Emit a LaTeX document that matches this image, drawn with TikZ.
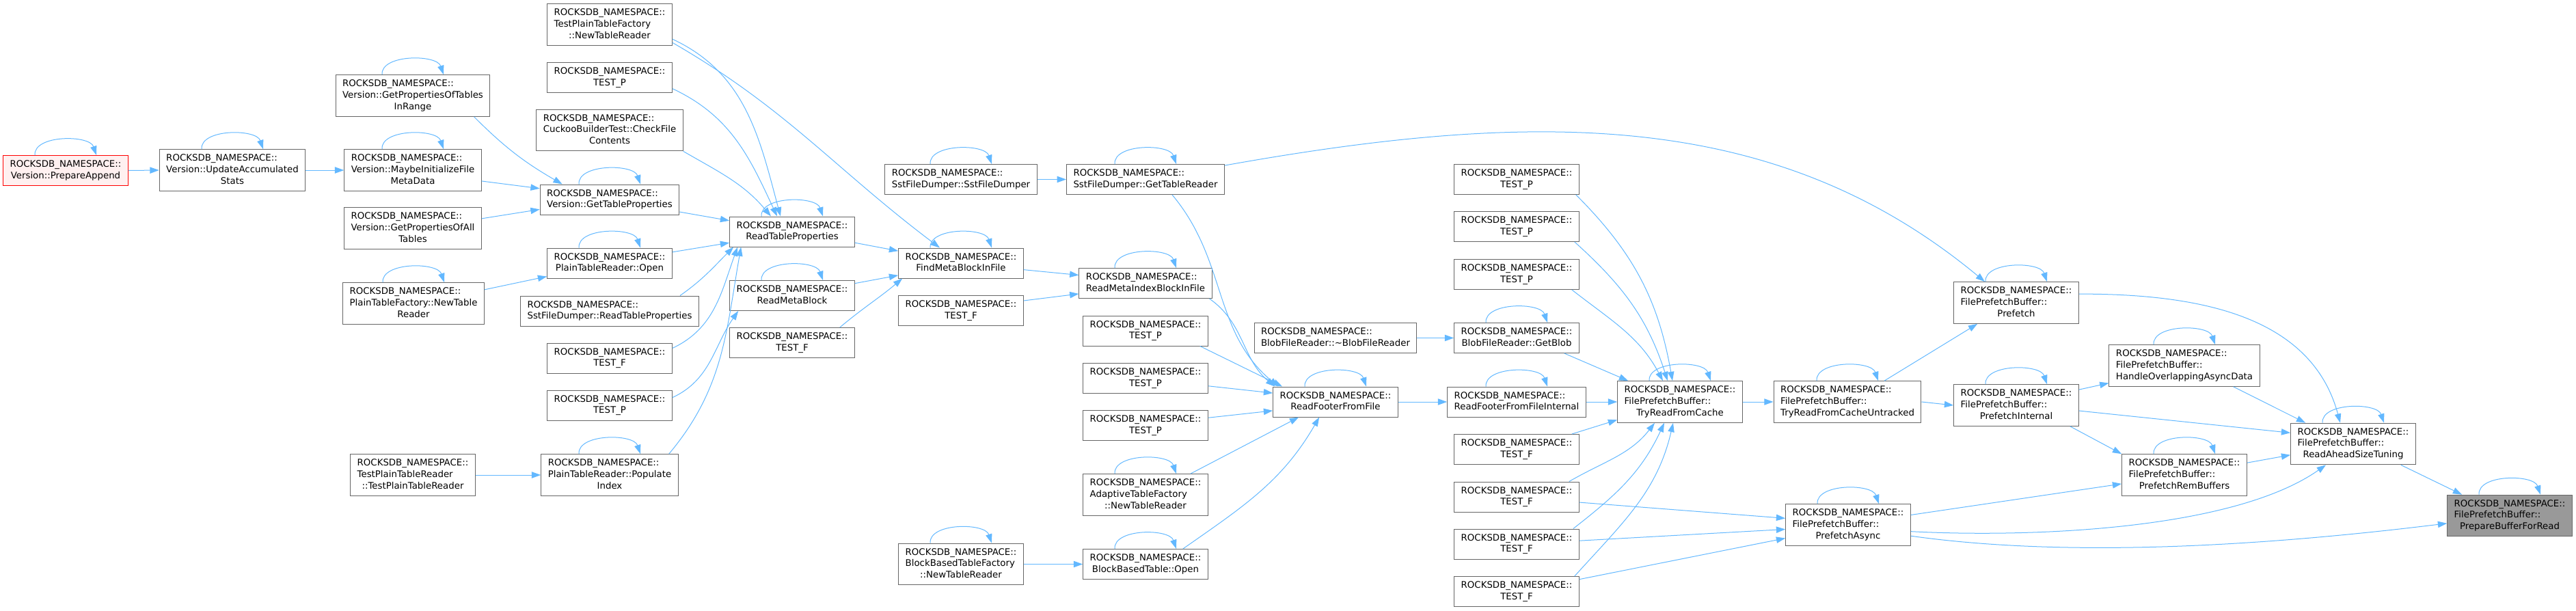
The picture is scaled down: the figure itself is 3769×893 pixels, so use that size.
\documentclass[tikz,border=0pt]{standalone}
\usepackage{fontspec}
\setmainfont{DejaVu Sans}
\usetikzlibrary{arrows.meta,calc}
\definecolor{cgEdge}{HTML}{63B8FF}
\definecolor{cgBorder}{HTML}{666666}
\definecolor{cgFocus}{HTML}{999999}
\definecolor{cgRed}{HTML}{FF0000}
\definecolor{cgRedFill}{HTML}{FFF0F0}
\newcommand{\rns}{ROCKSDB\_NAMESPACE::}
\newcommand{\fnl}[2]{\begin{tabular}{@{}l@{}}#1\\\multicolumn{1}{@{}c@{}}{#2}\end{tabular}}
\tikzset{
  cg node/.style={draw=cgBorder, fill=white, line width=0.75pt, inner xsep=7.5pt, inner ysep=4pt, font=\fontsize{10}{12.5}\selectfont},
  cg root/.style={cg node, draw=cgRed, fill=cgRedFill},
  cg focus/.style={cg node, fill=cgFocus},
  cg edge/.style={draw=cgEdge, line width=0.75pt, -{Triangle[length=10pt,width=7pt]}},
}

\begin{document}
\begin{tikzpicture}[x=0.75pt,y=0.75pt]
  \useasboundingbox (0,0) rectangle (3769,-893);
  % callers, left part
  \node[cg root] (prepAppend) at (96,-249.5) {\fnl{\rns}{Version::PrepareAppend}};
  \node[cg node] (updAcc) at (340,-249) {\fnl{\rns\\Version::UpdateAccumulated}{Stats}};
  \node[cg node] (propsRange) at (604,-140) {\fnl{\rns\\Version::GetPropertiesOfTables}{InRange}};
  \node[cg node] (maybeInit) at (604,-249) {\fnl{\rns\\Version::MaybeInitializeFile}{MetaData}};
  \node[cg node] (allTables) at (604,-334) {\fnl{\rns\\Version::GetPropertiesOfAll}{Tables}};
  \node[cg node] (plainFactory) at (605,-444) {\fnl{\rns\\PlainTableFactory::NewTable}{Reader}};
  \node[cg node] (testPlainReader) at (604,-695) {\fnl{\rns\\TestPlainTableReader}{::TestPlainTableReader}};
  \node[cg node] (testPlainFactory) at (892,-36) {\fnl{\rns\\TestPlainTableFactory}{::NewTableReader}};
  \node[cg node] (cuckoo) at (892,-190.5) {\fnl{\rns\\CuckooBuilderTest::CheckFile}{Contents}};
  \node[cg node] (getTblProps) at (892,-292) {\fnl{\rns}{Version::GetTableProperties}};
  \node[cg node] (plainOpen) at (892,-385) {\fnl{\rns}{PlainTableReader::Open}};
  \node[cg node] (sstReadProps) at (892,-455) {\fnl{\rns}{SstFileDumper::ReadTableProperties}};
  \node[cg node] (populateIdx) at (892,-695) {\fnl{\rns\\PlainTableReader::Populate}{Index}};
  \node[cg node] (readTblProps) at (1159,-339) {\fnl{\rns}{ReadTableProperties}};
  \node[cg node] (readMetaBlock) at (1159,-432.5) {\fnl{\rns}{ReadMetaBlock}};
  \node[cg node] (sstDumper) at (1406,-262.5) {\fnl{\rns}{SstFileDumper::SstFileDumper}};
  \node[cg node] (findMeta) at (1406,-385) {\fnl{\rns}{FindMetaBlockInFile}};
  \node[cg node] (bbtFactory) at (1406,-825.5) {\fnl{\rns\\BlockBasedTableFactory}{::NewTableReader}};
  \node[cg node] (getTblReader) at (1676,-262.5) {\fnl{\rns}{SstFileDumper::GetTableReader}};
  \node[cg node] (readMetaIdx) at (1676,-414.5) {\fnl{\rns}{ReadMetaIndexBlockInFile}};
  \node[cg node] (adaptive) at (1676,-724) {\fnl{\rns\\AdaptiveTableFactory}{::NewTableReader}};
  \node[cg node] (bbtOpen) at (1676,-825.5) {\fnl{\rns}{BlockBasedTable::Open}};
  \node[cg node] (blobDtor) at (1954,-494.5) {\fnl{\rns}{BlobFileReader::\textasciitilde BlobFileReader}};
  \node[cg node] (readFooter) at (1954,-588) {\fnl{\rns}{ReadFooterFromFile}};
  \node[cg node] (getBlob) at (2219,-494.5) {\fnl{\rns}{BlobFileReader::GetBlob}};
  \node[cg node] (readFooterInt) at (2219,-588) {\fnl{\rns}{ReadFooterFromFileInternal}};
  % tests
  \foreach \n/\x/\y/\t in {testP1/892/113.5/P, testF1/892/524/F, testP2/892/593/P, testF2/1159/501.5/F,
    testF3/1406/454.5/F, testP3/1676/484/P, testP4/1676/553.5/P, testP5/1676/622.5/P,
    testP6/2219/262.5/P, testP7/2219/331.5/P, testP8/2219/401.5/P,
    testF4/2219/657.5/F, testF5/2219/727/F, testF6/2219/796/F, testF7/2219/865.5/F}
    \node[cg node] (\n) at (\x,-\y) {\fnl{\rns}{TEST\_\t}};
  % FilePrefetchBuffer
  \node[cg node] (tryRead) at (2458,-588) {\fnl{\rns\\FilePrefetchBuffer::}{TryReadFromCache}};
  \node[cg node] (tryReadUntracked) at (2703,-588) {\fnl{\rns\\FilePrefetchBuffer::}{TryReadFromCacheUntracked}};
  \node[cg node] (prefetchAsync) at (2704,-768) {\fnl{\rns\\FilePrefetchBuffer::}{PrefetchAsync}};
  \node[cg node] (prefetch) at (2950,-443) {\fnl{\rns\\FilePrefetchBuffer::}{Prefetch}};
  \node[cg node] (prefetchInt) at (2950,-593) {\fnl{\rns\\FilePrefetchBuffer::}{PrefetchInternal}};
  \node[cg node] (handleOverlap) at (3196,-535) {\fnl{\rns\\FilePrefetchBuffer::}{HandleOverlappingAsyncData}};
  \node[cg node] (prefetchRem) at (3196,-695) {\fnl{\rns\\FilePrefetchBuffer::}{PrefetchRemBuffers}};
  \node[cg node] (readAhead) at (3443,-649.5) {\fnl{\rns\\FilePrefetchBuffer::}{ReadAheadSizeTuning}};
  \node[cg focus] (prepBuf) at (3672,-754.5) {\fnl{\rns\\FilePrefetchBuffer::}{PrepareBufferForRead}};

  % self calls
  \foreach \n in {prepAppend,updAcc,propsRange,maybeInit,plainFactory,getTblProps,plainOpen,populateIdx,
    readTblProps,readMetaBlock,sstDumper,getTblReader,findMeta,readMetaIdx,bbtFactory,adaptive,bbtOpen,
    readFooter,getBlob,readFooterInt,tryRead,tryReadUntracked,prefetchAsync,prefetch,prefetchInt,
    handleOverlap,prefetchRem,readAhead,prepBuf}
    \draw[cg edge] ($(\n.north)+(-45,0)$) .. controls +(-2,30) and +(-10,30) .. ($(\n.north)+(45,0)$);

  \draw[cg edge] (prepAppend.east) -- (updAcc.west);
  \draw[cg edge] (updAcc.east) -- (maybeInit.west);
  \draw[cg edge] (propsRange.341) to[out=-45,in=150] (getTblProps.162);
  \draw[cg edge] (maybeInit.351) -- (getTblProps.171);
  \draw[cg edge] (allTables.8) -- (getTblProps.188);
  \draw[cg edge] (plainFactory.11) -- (plainOpen.192);
  \draw[cg edge] (testPlainReader.east) -- (populateIdx.west);
  % into ReadTableProperties
  \draw[cg edge] (testPlainFactory.347) to[out=-25,in=105] ($(readTblProps.north)+(-17,0)$);
  \draw[cg edge] (testP1.350) to[out=-25,in=115] ($(readTblProps.north)+(-22,0)$);
  \draw[cg edge] (cuckoo.south east) to[out=-30,in=130] ($(readTblProps.north)+(-31,0)$);
  \draw[cg edge] (getTblProps.350) -- (readTblProps.170);
  \draw[cg edge] (plainOpen.10) -- (readTblProps.190);
  \draw[cg edge] ($(sstReadProps.north)+(103,0)$) to[out=35,in=-135] ($(readTblProps.south west)+(6,0)$);
  \draw[cg edge] (testF1.9) to[out=25,in=-110] ($(readTblProps.south west)+(12,0)$);
  \draw[cg edge] ($(populateIdx.north east)+(-14,0)$) to[out=50,in=-100] ($(readTblProps.south west)+(17,0)$);
  \draw[cg edge] (testP2.7) to[out=25,in=-125] ($(readMetaBlock.south west)+(13,0)$);
  % into FindMetaBlockInFile, ReadMetaIndexBlockInFile
  \draw[cg edge] (testPlainFactory.344) to[out=-30,in=143] ($(findMeta.north)+(-31,0)$);
  \draw[cg edge] (readTblProps.350) -- (findMeta.169);
  \draw[cg edge] (readMetaBlock.11) -- (findMeta.191);
  \draw[cg edge] ($(testF2.north east)+(-22,0)$) to[out=40,in=-140] ($(findMeta.south west)+(6,0)$);
  \draw[cg edge] (findMeta.354) -- (readMetaIdx.173);
  \draw[cg edge] (testF3.9) -- (readMetaIdx.189);
  \draw[cg edge] (sstDumper.east) -- (getTblReader.west);
  \draw[cg edge] (getTblReader.10) .. controls (2250,-160) and (2600,-160) .. ($(prefetch.north)+(-46,0)$);
  % into ReadFooterFromFile
  \draw[cg edge] ($(getTblReader.south)+(39,0)$) to[out=-50,in=140] ($(readFooter.north west)+(8,0)$);
  \draw[cg edge] ($(readMetaIdx.south east)+(-4,0)$) to[out=-35,in=140] ($(readFooter.north west)+(3,0)$);
  \draw[cg edge] ($(testP3.south east)+(-12,0)$) -- ($(readFooter.north west)+(14,0)$);
  \draw[cg edge] (testP4.353) -- (readFooter.172);
  \draw[cg edge] (testP5.7) -- (readFooter.188);
  \draw[cg edge] ($(adaptive.north east)+(-26,0)$) -- ($(readFooter.south west)+(38,0)$);
  \draw[cg edge] ($(bbtOpen.north east)+(-37,0)$) to[out=35,in=-120] ($(readFooter.south west)+(68,0)$);
  \draw[cg edge] (bbtFactory.east) -- (bbtOpen.west);
  % into TryReadFromCache
  \draw[cg edge] (readFooter.east) -- (readFooterInt.west);
  \draw[cg edge] (blobDtor.east) -- (getBlob.west);
  \draw[cg edge] ($(getBlob.south east)+(-22,0)$) -- ($(tryRead.north west)+(16,0)$);
  \draw[cg edge] (readFooterInt.east) -- (tryRead.west);
  \draw[cg edge] ($(testP6.south east)+(-5,0)$) to[out=-45,in=100] ($(tryRead.north)+(-11,0)$);
  \draw[cg edge] ($(testP7.south east)+(-7,0)$) to[out=-42,in=108] ($(tryRead.north)+(-18,0)$);
  \draw[cg edge] ($(testP8.south east)+(-11,0)$) to[out=-38,in=118] ($(tryRead.north)+(-25,0)$);
  \draw[cg edge] ($(testF4.north east)+(-11,0)$) -- (tryRead.196);
  \draw[cg edge] ($(testF5.north east)+(-15,0)$) to[out=30,in=-128] ($(tryRead.south)+(-37,0)$);
  \draw[cg edge] ($(testF6.north east)+(-9,0)$) to[out=38,in=-115] ($(tryRead.south)+(-23,0)$);
  \draw[cg edge] ($(testF7.north east)+(-7,0)$) to[out=48,in=-103] ($(tryRead.south)+(-10,0)$);
  \draw[cg edge] (testF5.355) -- (prefetchAsync.174);
  \draw[cg edge] (testF6.3) -- (prefetchAsync.184);
  \draw[cg edge] (testF7.11) -- (prefetchAsync.192);
  % FilePrefetchBuffer chain
  \draw[cg edge] (tryRead.east) -- (tryReadUntracked.west);
  \draw[cg edge] ($(tryReadUntracked.north)+(54,0)$) -- ($(prefetch.south west)+(35,0)$);
  \draw[cg edge] (tryReadUntracked.east) -- (prefetchInt.west);
  \draw[cg edge] (prefetch.8) to[out=0,in=105] ($(readAhead.north)+(-19,0)$);
  \draw[cg edge] (prefetchInt.14) -- (handleOverlap.193);
  \draw[cg edge] (prefetchInt.355) -- (readAhead.170);
  \draw[cg edge] ($(prefetchInt.south east)+(-13,0)$) -- (prefetchRem.north west);
  \draw[cg edge] ($(handleOverlap.south east)+(-39,0)$) -- ($(readAhead.north west)+(22,0)$);
  \draw[cg edge] (prefetchRem.11) -- (readAhead.190);
  \draw[cg edge] (prefetchAsync.9) -- (prefetchRem.188);
  \draw[cg edge] (prefetchAsync.354) to[out=-3,in=-145,looseness=0.7] ($(readAhead.south)+(-40,0)$);
  \draw[cg edge] (prefetchAsync.350) to[out=-8,in=187,looseness=0.8] (prepBuf.187);
  \draw[cg edge] ($(readAhead.south east)+(-22,0)$) -- ($(prepBuf.north west)+(22,0)$);
\end{tikzpicture}
\end{document}
